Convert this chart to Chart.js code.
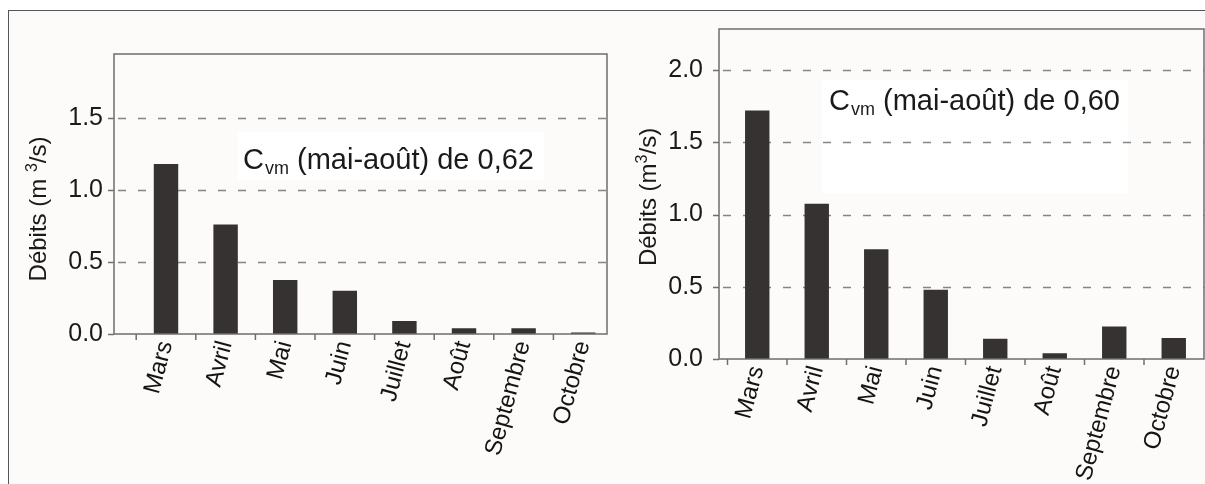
<!DOCTYPE html>
<html><head><meta charset="utf-8">
<script src="https://cdn.jsdelivr.net/npm/chart.js@4.4.0/dist/chart.umd.min.js"></script>
<style>
html,body{margin:0;padding:0;background:#fff;}
#wrap{position:relative;width:1205px;height:484px;overflow:hidden;background:#fff;}
#frame{position:absolute;left:8px;top:10px;width:1220px;height:500px;border-top:1.5px solid #555;border-left:1.5px solid #555;background:#fcfbfa;}
canvas{position:absolute;top:0;}
</style></head><body>
<div id="wrap"><div id="frame"></div>
<canvas id="c1" width="620" height="484" style="left:0px"></canvas>
<canvas id="c2" width="595" height="484" style="left:610px"></canvas>
</div>
<script>
// ---- data ----
const months = ['Mars','Avril','Mai','Juin','Juillet','Août','Septembre','Octobre'];
const debitsGauche = [1.18, 0.76, 0.375, 0.30, 0.09, 0.04, 0.04, 0.01];
const debitsDroite = [1.72, 1.075, 0.76, 0.48, 0.14, 0.04, 0.225, 0.145];
const ticksGauche = [0, 0.5, 1.0, 1.5];
const ticksDroite = [0, 0.5, 1.0, 1.5, 2.0];
const maxGauche = 1.944;
const maxDroite = 2.284;
const cvmGauche = '0,62';
const cvmDroite = '0,60';
const titreGauche = ['Débits (m ', '3', '/s)'];
const titreDroite = ['Débits (m', '3', '/s)'];

const FONT = '"Liberation Sans", Arial, Helvetica, sans-serif';
Chart.defaults.font.family = FONT;
Chart.defaults.color = '#1a1a1a';

function makeChart(id, values, yTicks, yMax, g, titre, cvm) {
  const canvas = document.getElementById(id);
  const W = canvas.width, H = canvas.height;
  const deco = {
    id: 'deco_' + id,
    beforeDatasetsDraw(chart) {
      const ctx = chart.ctx, y = chart.scales.y;
      ctx.save();
      ctx.fillStyle = '#ffffff';
      ctx.fillRect(g.white.x, g.white.y, g.white.w, g.white.h);
      ctx.strokeStyle = '#858585';
      ctx.lineWidth = 1.5;
      ctx.setLineDash([8, 12]);
      yTicks.forEach(t => {
        if (t === 0) return;
        const py = Math.round(y.getPixelForValue(t)) + 0.5;
        ctx.beginPath(); ctx.moveTo(g.box.l + 4, py); ctx.lineTo(g.box.r, py); ctx.stroke();
      });
      ctx.restore();
    },
    afterDatasetsDraw(chart) {
      const ctx = chart.ctx, x = chart.scales.x, y = chart.scales.y;
      ctx.save();
      ctx.strokeStyle = '#6e6e6e';
      ctx.lineWidth = 1.5;
      ctx.strokeRect(g.box.l, g.box.t, g.box.r - g.box.l, g.box.b - g.box.t);
      yTicks.forEach(t => {
        const py = Math.round(y.getPixelForValue(t)) + 0.5;
        ctx.beginPath(); ctx.moveTo(g.box.l - 6, py); ctx.lineTo(g.box.l, py); ctx.stroke();
      });
      const half = (x.getPixelForValue(1) - x.getPixelForValue(0)) / 2;
      for (let i = 0; i <= months.length; i++) {
        const px = x.getPixelForValue(0) - half + i * 2 * half;
        if (px < g.box.l + 2 || px > g.box.r - 2) continue;
        ctx.beginPath(); ctx.moveTo(px, g.box.b); ctx.lineTo(px, g.box.b + 6); ctx.stroke();
      }
      // annotation
      ctx.fillStyle = '#1a1a1a';
      ctx.textBaseline = 'alphabetic';
      ctx.textAlign = 'left';
      let ax = g.annot.x;
      ctx.font = g.annot.size + 'px ' + FONT;
      ctx.fillText('C', ax, g.annot.base); ax += ctx.measureText('C').width;
      const sub = Math.round(g.annot.size * 0.62);
      ctx.font = sub + 'px ' + FONT;
      ctx.fillText('vm', ax + 1, g.annot.base + 5); ax += ctx.measureText('vm').width + 1;
      ctx.font = g.annot.size + 'px ' + FONT;
      ctx.fillText(' (mai-août) de ' + cvm, ax, g.annot.base);
      // axis title
      ctx.translate(g.title.x, g.title.y);
      ctx.rotate(-Math.PI / 2);
      const fs = g.title.size, ss = Math.round(fs * 0.65);
      ctx.font = fs + 'px ' + FONT; const w0 = ctx.measureText(titre[0]).width, w2 = ctx.measureText(titre[2]).width;
      ctx.font = ss + 'px ' + FONT; const w1 = ctx.measureText(titre[1]).width;
      let tx = -(w0 + w1 + w2) / 2;
      const base = fs * 0.36;
      ctx.font = fs + 'px ' + FONT; ctx.fillText(titre[0], tx, base); tx += w0;
      ctx.font = ss + 'px ' + FONT; ctx.fillText(titre[1], tx, base - fs * 0.36); tx += w1;
      ctx.font = fs + 'px ' + FONT; ctx.fillText(titre[2], tx, base);
      ctx.restore();
    }
  };
  return new Chart(canvas, {
    type: 'bar',
    data: { labels: months, datasets: [{ data: values, backgroundColor: '#363232', borderWidth: 0, categoryPercentage: 1, barPercentage: 0.41 }] },
    options: {
      responsive: false, animation: false,
      devicePixelRatio: 1,
      layout: { padding: { left: 0, top: g.box.t, right: W - g.area.r, bottom: 0 } },
      plugins: { legend: { display: false }, tooltip: { enabled: false } },
      scales: {
        x: {
          grid: { display: false, drawTicks: false },
          border: { display: false },
          ticks: { maxRotation: 75, minRotation: 75, padding: g.xpad, font: { size: 24 }, color: '#141414', autoSkip: false },
          afterFit(s) { s.height = H - g.box.b; s.paddingLeft = 0; s.paddingRight = 0; }
        },
        y: {
          min: 0, max: yMax,
          grid: { display: false, drawTicks: false },
          border: { display: false },
          afterBuildTicks(s) { s.ticks = yTicks.map(v => ({ value: v })); },
          ticks: { padding: g.area.l - g.labelRight, font: { size: 25 }, color: '#1a1a1a', callback: v => v.toFixed(1) },
          afterFit(s) { s.width = g.area.l; s.paddingTop = 0; s.paddingBottom = 0; }
        }
      }
    },
    plugins: [deco]
  });
}

makeChart('c1', debitsGauche, ticksGauche, maxGauche, {
  box: { l: 114, r: 607, t: 54, b: 334 },
  area: { l: 136.2, r: 613 },
  labelRight: 103,
  xpad: 4,
  title: { x: 37, y: 209, size: 24 },
  annot: { x: 243, base: 169, size: 29 },
  white: { x: 238, y: 132, w: 306, h: 48 }
}, titreGauche, cvmGauche);

makeChart('c2', debitsDroite, ticksDroite, maxDroite, {
  box: { l: 109, r: 594, t: 29, b: 359 },
  area: { l: 117.5, r: 593.5 },
  labelRight: 93,
  xpad: 4,
  title: { x: 37, y: 197, size: 24 },
  annot: { x: 219, base: 110, size: 29 },
  white: { x: 212, y: 80, w: 306, h: 113 }
}, titreDroite, cvmDroite);
</script>
</body></html>
